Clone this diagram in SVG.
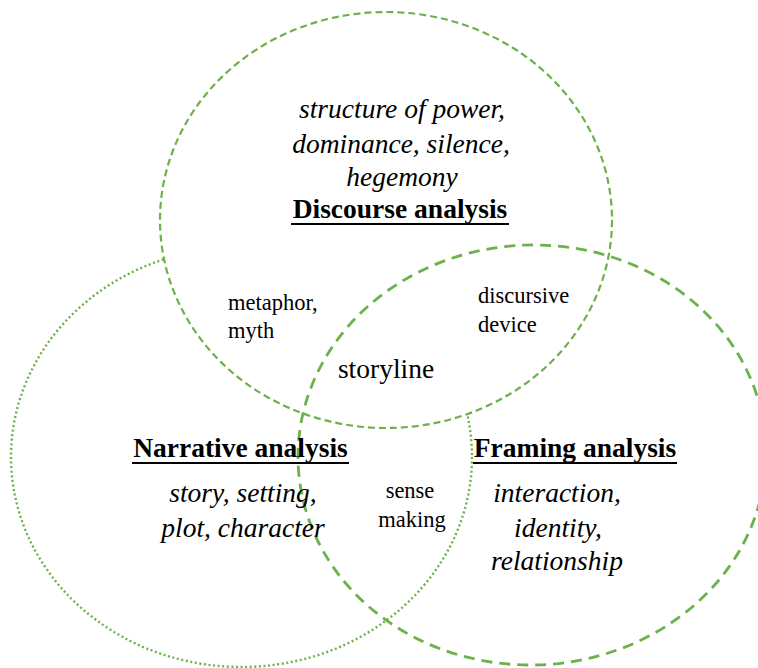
<svg xmlns="http://www.w3.org/2000/svg" width="758" height="668" viewBox="0 0 758 668">
<style>
.ring{stroke:#6db14a;}
.disc{fill:#ffffff;stroke-width:2.2;stroke-dasharray:7 4;}
.narr{fill:#ffffff;stroke-width:2.4;stroke-dasharray:2 2.6;}
.fram{fill:none;stroke-width:2.8;stroke-dasharray:11 7;}
text{font-family:"Liberation Serif","Times New Roman",serif;fill:#000;}
.it{font-style:italic;font-size:27.5px;text-anchor:middle;}
.hd{font-weight:bold;font-size:27.5px;text-anchor:middle;}
.sm{font-size:22.5px;}
.md{font-size:27.5px;text-anchor:middle;}
.ul{stroke:#000;stroke-width:2.2;}
</style>
<rect width="758" height="668" fill="#ffffff"/>
<g id="connectors"></g>
<g id="narrative">
<ellipse class="ring narr" cx="241.5" cy="457" rx="230.5" ry="210"/>
</g>
<g id="discourse">
<ellipse class="ring disc" cx="386" cy="220" rx="226" ry="208"/>
</g>
<g id="framing">
<ellipse class="ring fram" cx="532" cy="455" rx="234" ry="210" transform="rotate(-2 532 455)"/>
</g>
<g id="discourse-label">
<text class="it" x="402" y="118">structure of power,</text>
<text class="it" x="401" y="153">dominance, silence,</text>
<text class="it" x="402" y="186">hegemony</text>
<text class="hd" x="400" y="218">Discourse analysis</text>
<line class="ul" x1="291" y1="224" x2="509" y2="224"/>
</g>
<g id="narrative-label">
<text class="hd" x="240.5" y="457">Narrative analysis</text>
<line class="ul" x1="132" y1="463" x2="349" y2="463"/>
<text class="it" x="243" y="502">story, setting,</text>
<text class="it" x="243" y="537">plot, character</text>
</g>
<g id="framing-label">
<text class="hd" x="575" y="457">Framing analysis</text>
<line class="ul" x1="473" y1="463" x2="677" y2="463"/>
<text class="it" x="557" y="502">interaction,</text>
<text class="it" x="558" y="537">identity,</text>
<text class="it" x="557" y="570">relationship</text>
</g>
<g id="overlap-discourse-narrative">
<text class="sm" x="228" y="310">metaphor,</text>
<text class="sm" x="228" y="338">myth</text>
</g>
<g id="overlap-discourse-framing">
<text class="sm" x="478" y="303">discursive</text>
<text class="sm" x="478" y="332">device</text>
</g>
<g id="overlap-all">
<text class="md" x="386" y="378">storyline</text>
</g>
<g id="overlap-narrative-framing">
<text class="sm" x="410" y="498" text-anchor="middle">sense</text>
<text class="sm" x="412" y="527" text-anchor="middle">making</text>
</g>
</svg>
